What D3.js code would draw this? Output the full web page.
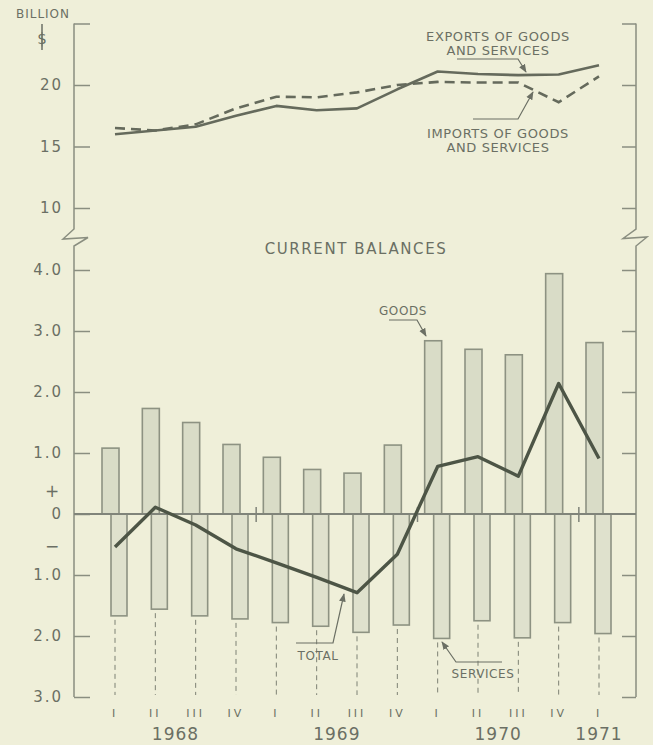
<!DOCTYPE html>
<html>
<head>
<meta charset="utf-8">
<script src="https://cdn.jsdelivr.net/npm/d3@7"></script>
<style>
  body { margin: 0; background: #efefd9; }
  svg { display: block; }
  text { font-family: "DejaVu Sans", sans-serif; fill: #6b6f64; }
</style>
</head>
<body>
<div id="chart"></div>
<script>
const quarters = ["I", "II", "III", "IV", "I", "II", "III", "IV", "I", "II", "III", "IV", "I"];
const years = ["1968", "1969", "1970", "1971"];
const yearAt = [1.5, 5.5, 9.5, 12];

// billions of dollars, quarterly, seasonally adjusted
const exportsGS = [16.0, 16.3, 16.6, 17.5, 18.3, 17.95, 18.1, 19.65, 21.1, 20.9, 20.8, 20.85, 21.6];
const importsGS = [16.5, 16.3, 16.8, 18.1, 19.05, 19.0, 19.4, 20.0, 20.25, 20.2, 20.2, 18.6, 20.7];

const goods = [1.08, 1.73, 1.50, 1.14, 0.93, 0.73, 0.67, 1.13, 2.84, 2.70, 2.61, 3.94, 2.81];
const services = [-1.67, -1.56, -1.67, -1.72, -1.78, -1.84, -1.94, -1.82, -2.04, -1.75, -2.03, -1.78, -1.96];
const total = [-0.54, 0.11, -0.18, -0.57, -0.8, -1.04, -1.29, -0.66, 0.78, 0.94, 0.62, 2.14, 0.91];

const topTicks = [10, 15, 20, 25];
const balTicks = [4, 3, 2, 1, 0, -1, -2, -3];

const width = 653, height = 745;
const axisL = 74, axisR = 636;
const ink = "#6b6f64", lineInk = "#4d5546";

const svg = d3.select("#chart").append("svg")
  .attr("width", width)
  .attr("height", height);

svg.append("rect").attr("width", width).attr("height", height).attr("fill", "#efefd9");

const x = d3.scaleLinear().domain([0, quarters.length - 1]).range([115, 599]);
const yTop = d3.scaleLinear().domain([10, 20]).range([208, 85]);
const yBal = d3.scaleLinear().domain([-3, 4]).range([697, 270]);

// arrow marker for leader lines
svg.append("defs").append("marker")
  .attr("id", "arrow")
  .attr("viewBox", "0 0 10 10")
  .attr("refX", 9).attr("refY", 5)
  .attr("markerWidth", 7).attr("markerHeight", 7)
  .attr("orient", "auto")
  .append("path")
  .attr("d", "M0,1 L10,5 L0,9 Z")
  .attr("fill", ink);

// ---- axes ----
function styleAxis(g) {
  g.select(".domain").remove();
  g.selectAll(".tick line").attr("stroke", "#8a8e80").attr("stroke-width", 1.5);
  g.selectAll(".tick text")
    .style("font-family", "DejaVu Sans, sans-serif")
    .style("font-size", "15px")
    .style("letter-spacing", "2px")
    .attr("fill", ink);
}

svg.append("g")
  .attr("transform", `translate(${axisL},0)`)
  .call(d3.axisLeft(yTop).tickValues(topTicks).tickSize(-16).tickPadding(11)
    .tickFormat(d => d === 25 ? "" : d))
  .call(styleAxis);

svg.append("g")
  .attr("transform", `translate(${axisR},0)`)
  .call(d3.axisRight(yTop).tickValues(topTicks).tickSize(-14).tickFormat(""))
  .call(styleAxis);

svg.append("g")
  .attr("transform", `translate(${axisL},0)`)
  .call(d3.axisLeft(yBal).tickValues(balTicks).tickSize(-16).tickPadding(11)
    .tickFormat(d => d === 0 ? "0" : Math.abs(d).toFixed(1)))
  .call(styleAxis);

svg.append("g")
  .attr("transform", `translate(${axisR},0)`)
  .call(d3.axisRight(yBal).tickValues(balTicks.filter(d => d !== 0)).tickSize(-14).tickFormat(""))
  .call(styleAxis);

// axis lines with scale breaks
const yb0 = yTop(25), yb1 = yBal(-3);
svg.append("path")
  .attr("d", `M${axisL},${yb0} V229 L63,239 L88,237.5 L${axisL},246 V${yb1}`)
  .attr("fill", "none").attr("stroke", "#8a8e80").attr("stroke-width", 1.5);
svg.append("path")
  .attr("d", `M${axisR},${yb0} V229 L623,238.5 L647,237 L${axisR},246 V${yb1}`)
  .attr("fill", "none").attr("stroke", "#8a8e80").attr("stroke-width", 1.5);

// plus / minus signs
svg.append("text").attr("x", 52).attr("y", yBal(0.38) + 6)
  .attr("text-anchor", "middle").style("font-size", "17px").text("+");
svg.append("text").attr("x", 52).attr("y", yBal(-0.52) + 6)
  .attr("text-anchor", "middle").style("font-size", "17px").text("\u2212");

svg.append("text").attr("x", 43).attr("y", 18)
  .attr("text-anchor", "middle").style("font-size", "12px").style("letter-spacing", "1px")
  .text("BILLION");
svg.append("line").attr("x1", 42).attr("x2", 42).attr("y1", 24).attr("y2", 50)
  .attr("stroke", ink).attr("stroke-width", 1.5);
svg.append("text").attr("x", 42).attr("y", 44)
  .attr("text-anchor", "middle").style("font-size", "15px").text("$");

// ---- top panel: exports and imports ----
const topLine = d3.line().x((d, i) => x(i)).y(d => yTop(d));

svg.append("path").datum(importsGS)
  .attr("d", topLine)
  .attr("fill", "none").attr("stroke", "#656a5c").attr("stroke-width", 2.6)
  .attr("stroke-dasharray", "10,6");

svg.append("path").datum(exportsGS)
  .attr("d", topLine)
  .attr("fill", "none").attr("stroke", "#656a5c").attr("stroke-width", 2.6)
  .attr("stroke-linejoin", "round");

// ---- bottom panel: current balances ----
svg.selectAll(".goods")
  .data(goods)
  .enter().append("rect")
  .attr("class", "goods")
  .attr("x", (d, i) => x(i) - 13)
  .attr("y", d => yBal(d))
  .attr("width", 17)
  .attr("height", d => yBal(0) - yBal(d))
  .attr("fill", "#d9dcc7")
  .attr("stroke", "#8d9282")
  .attr("stroke-width", 1.6);

svg.selectAll(".services")
  .data(services)
  .enter().append("rect")
  .attr("class", "services")
  .attr("x", (d, i) => x(i) - 4)
  .attr("y", yBal(0))
  .attr("width", 16)
  .attr("height", d => yBal(d) - yBal(0))
  .attr("fill", "#dfe1cd")
  .attr("stroke", "#8d9282")
  .attr("stroke-width", 1.6);

// dashed drop lines to quarter labels
svg.selectAll(".drop")
  .data(services)
  .enter().append("line")
  .attr("class", "drop")
  .attr("x1", (d, i) => x(i)).attr("x2", (d, i) => x(i))
  .attr("y1", d => yBal(d) + 4)
  .attr("y2", 695)
  .attr("stroke", "#7d8174").attr("stroke-width", 1)
  .attr("stroke-dasharray", "5,4");

// zero line
svg.append("line")
  .attr("x1", axisL).attr("x2", axisR)
  .attr("y1", yBal(0)).attr("y2", yBal(0))
  .attr("stroke", "#80847a").attr("stroke-width", 2);

// year boundary ticks
svg.selectAll(".ytick")
  .data([3.5, 7.5, 11.5])
  .enter().append("line")
  .attr("x1", d => x(d)).attr("x2", d => x(d))
  .attr("y1", yBal(0) - 7).attr("y2", yBal(0) + 8)
  .attr("stroke", "#80847a").attr("stroke-width", 1.5);

svg.append("path").datum(total)
  .attr("d", d3.line().x((d, i) => x(i)).y(d => yBal(d)))
  .attr("fill", "none").attr("stroke", lineInk).attr("stroke-width", 3.4)
  .attr("stroke-linejoin", "round");

// quarter and year labels
svg.selectAll(".qlab")
  .data(quarters)
  .enter().append("text")
  .attr("x", (d, i) => x(i)).attr("y", 717)
  .attr("text-anchor", "middle")
  .style("font-size", "11px").style("letter-spacing", "3px")
  .text(d => d);

svg.selectAll(".year")
  .data(years)
  .enter().append("text")
  .attr("x", (d, i) => x(yearAt[i])).attr("y", 740)
  .attr("text-anchor", "middle")
  .style("font-size", "17px").style("letter-spacing", "1px")
  .text(d => d);

// ---- labels and leaders ----
function label(lines, cx, y0, size, gap) {
  lines.forEach((t, i) => {
    svg.append("text").attr("x", cx).attr("y", y0 + i * gap)
      .attr("text-anchor", "middle")
      .style("font-size", size + "px").style("letter-spacing", "0.6px")
      .text(t);
  });
}
function leader(d) {
  svg.append("path").attr("d", d)
    .attr("fill", "none").attr("stroke", ink).attr("stroke-width", 1.2)
    .attr("marker-end", "url(#arrow)");
}

label(["EXPORTS OF GOODS", "AND SERVICES"], 498, 41, 13, 13.5);
leader("M457,59 H518 L526,72");
label(["IMPORTS OF GOODS", "AND SERVICES"], 498, 137.5, 13, 14.5);
leader("M473,119 H518 L533,92");

svg.append("text").attr("x", 356).attr("y", 254)
  .attr("text-anchor", "middle")
  .style("font-size", "15px").style("letter-spacing", "1.6px")
  .text("CURRENT BALANCES");

label(["GOODS"], 403, 315, 12, 0);
leader("M389,320 H417 L426,336");
label(["TOTAL"], 318, 660, 12, 0);
leader("M296,643 H333 L344,594");
label(["SERVICES"], 483, 678, 12, 0);
leader("M502,662 H456 L442,642");
</script>
</body>
</html>
